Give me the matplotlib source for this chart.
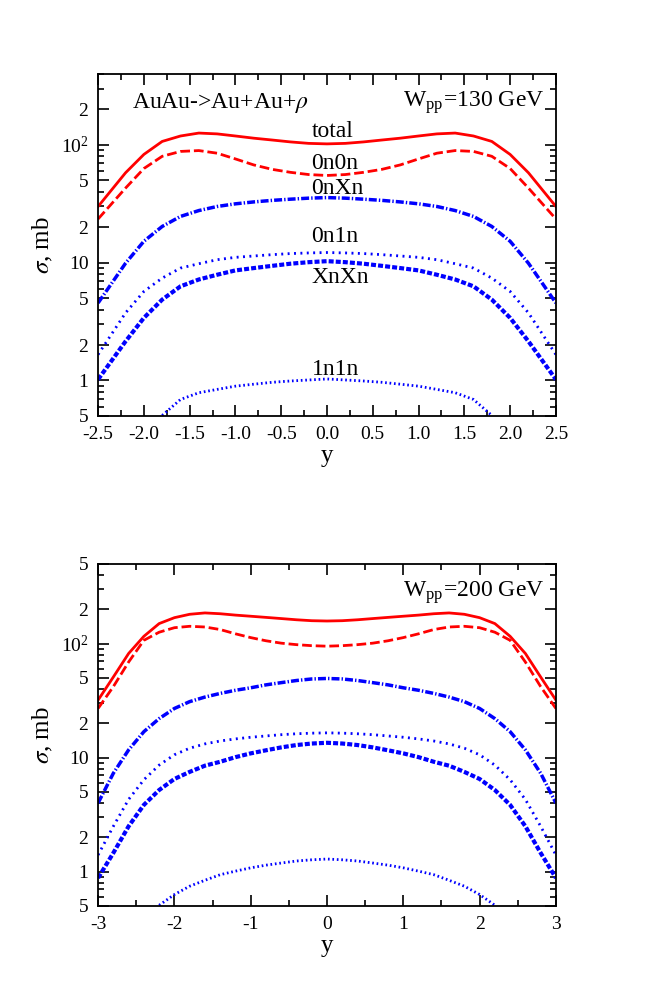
import numpy as np
import matplotlib
matplotlib.use('Agg')
import matplotlib.pyplot as plt
from matplotlib.ticker import LogLocator, FuncFormatter, MultipleLocator, NullFormatter

plt.rcParams['font.family'] = ['Liberation Serif', 'DejaVu Serif']
plt.rcParams['mathtext.fontset'] = 'stix'

# W_pp = 130 GeV panel
y130 = [-2.5, -2.2, -2.0, -1.8, -1.6, -1.4, -1.2, -1.0, -0.8, -0.6, -0.4, -0.2, 0.0,
        0.2, 0.4, 0.6, 0.8, 1.0, 1.2, 1.4, 1.6, 1.8, 2.0, 2.2, 2.5]
total130 = [30, 58, 83, 107, 119, 126, 124, 119, 114, 110, 106, 103, 102,
            103, 106, 110, 114, 119, 124, 126, 119, 107, 83, 58, 30]
n0n0_130 = [23.5, 43, 63, 80, 88, 89.5, 85, 76, 67.6, 62, 58.5, 56, 55,
            56, 58.5, 62, 67.6, 76, 85, 89.5, 88, 80, 63, 43, 23.5]
n0nX_130 = [4.55, 9.9, 15.2, 20.3, 24.7, 27.7, 30, 31.6, 32.8, 33.8, 34.6, 35.3, 35.7,
            35.3, 34.6, 33.8, 32.8, 31.6, 30, 27.7, 24.7, 20.3, 15.2, 9.9, 4.55]
n0n1_130 = [1.66, 3.75, 5.7, 7.4, 9.0, 9.8, 10.6, 11.1, 11.4, 11.7, 11.95, 12.1, 12.2,
            12.1, 11.95, 11.7, 11.4, 11.1, 10.6, 9.8, 9.0, 7.4, 5.7, 3.75, 1.66]
nXnX_130 = [1.02, 2.15, 3.4, 4.86, 6.3, 7.2, 7.9, 8.6, 9.0, 9.4, 9.8, 10.1, 10.3,
            10.1, 9.8, 9.4, 9.0, 8.6, 7.9, 7.2, 6.3, 4.86, 3.4, 2.15, 1.02]
n1n1_130 = [np.nan, np.nan, np.nan, 0.505, 0.69, 0.787, 0.84, 0.895, 0.93, 0.965, 0.99, 1.01, 1.03,
            1.01, 0.99, 0.965, 0.93, 0.895, 0.84, 0.787, 0.69, 0.505, np.nan, np.nan, np.nan]

# W_pp = 200 GeV panel
y200 = [-3.0, -2.8, -2.6, -2.4, -2.2, -2.0, -1.8, -1.6, -1.4, -1.2, -1.0, -0.8, -0.6, -0.4, -0.2, 0.0,
        0.2, 0.4, 0.6, 0.8, 1.0, 1.2, 1.4, 1.6, 1.8, 2.0, 2.2, 2.4, 2.6, 2.8, 3.0]
total200 = [32, 51, 82, 116, 150, 169, 181, 186, 183, 178, 174, 170, 166, 162, 159, 158,
            159, 162, 166, 170, 174, 178, 183, 186, 181, 169, 150, 116, 82, 51, 32]
n0n0_200 = [27, 42, 69, 107, 126, 138, 142, 140, 133, 122, 113, 106, 101, 98, 96, 95,
            96, 98, 101, 106, 113, 122, 133, 140, 142, 138, 126, 107, 69, 42, 27]
n0nX_200 = [4.0, 7.3, 11.7, 16.9, 22, 27, 31, 34, 36.6, 39, 41, 43.5, 45.5, 47.5, 49, 49.5,
            49, 47.5, 45.5, 43.5, 41, 39, 36.6, 34, 31, 27, 22, 16.9, 11.7, 7.3, 4.0]
n0n1_200 = [1.4, 2.5, 4.3, 6.4, 8.6, 10.6, 12.1, 13.2, 14.0, 14.6, 15.1, 15.5, 15.9, 16.2, 16.4, 16.5,
            16.4, 16.2, 15.9, 15.5, 15.1, 14.6, 14.0, 13.2, 12.1, 10.6, 8.6, 6.4, 4.3, 2.5, 1.4]
nXnX_200 = [0.88, 1.46, 2.5, 3.85, 5.2, 6.5, 7.5, 8.5, 9.2, 10.1, 10.9, 11.6, 12.3, 12.9, 13.3, 13.5,
            13.3, 12.9, 12.3, 11.6, 10.9, 10.1, 9.2, 8.5, 7.5, 6.5, 5.2, 3.85, 2.5, 1.46, 0.88]
n1n1_200 = [np.nan, np.nan, np.nan, np.nan, 0.507, 0.63, 0.745, 0.84, 0.94, 1.01, 1.08, 1.14, 1.19, 1.24, 1.27, 1.29,
            1.27, 1.24, 1.19, 1.14, 1.08, 1.01, 0.94, 0.84, 0.745, 0.63, 0.507, np.nan, np.nan, np.nan, np.nan]

curve_labels = ['total', '0n0n', '0nXn', '0n1n', 'XnXn', '1n1n']
label_pos = [131, 70, 43, 16.6, 7.5, 1.24]

RED = '#ff0000'
BLUE = '#0000ff'


def ytick_fmt(v, pos):
    e = int(np.floor(np.log10(v) + 1e-9))
    m = int(round(v / 10 ** e))
    if m == 1:
        if e == 2:
            return r'$\mathregular{10^2}$'
        return '%g' % v
    return str(m)


def draw(ax, x, tot, a, b, c, d, e):
    ax.plot(x, tot, color=RED, lw=2.0, solid_joinstyle='round')
    ax.plot(x, a, color=RED, lw=2.0, dashes=(3.5, 1.4))
    ax.plot(x, b, color=BLUE, lw=2.5, dashes=(2.3, 0.6, 0.4, 0.6))
    ax.plot(x, c, color=BLUE, lw=2.0, dashes=(0.7, 1.6))
    ax.plot(x, d, color=BLUE, lw=3.0, dashes=(1.2, 0.5))
    ax.plot(x, e, color=BLUE, lw=2.0, dashes=(0.6, 1.0))
    ax.set_yscale('log')
    ax.yaxis.set_major_locator(LogLocator(base=10, subs=(1.0, 2.0, 5.0)))
    ax.yaxis.set_minor_locator(LogLocator(base=10, subs=(3.0, 4.0, 6.0, 7.0, 8.0, 9.0)))
    ax.yaxis.set_major_formatter(FuncFormatter(ytick_fmt))
    ax.yaxis.set_minor_formatter(NullFormatter())
    ax.tick_params(which='both', direction='in', top=True, right=True, labelsize=14, width=1.2)
    ax.tick_params(which='major', length=8, pad=7)
    ax.tick_params(which='minor', length=4)
    ax.set_xlabel('y', fontsize=18, labelpad=2)
    ax.set_ylabel(r'$\sigma$, mb', fontsize=18, labelpad=4)
    for s in ax.spines.values():
        s.set_linewidth(1.3)


fig = plt.figure(figsize=(6.54, 9.81), dpi=100)

ax1 = fig.add_axes([0.150, 0.576, 0.700, 0.3486])
draw(ax1, y130, total130, n0n0_130, n0nX_130, n0n1_130, nXnX_130, n1n1_130)
ax1.set_xlim(-2.5, 2.5)
ax1.set_ylim(0.5, 400)
ax1.xaxis.set_major_locator(MultipleLocator(0.5))
ax1.xaxis.set_minor_locator(MultipleLocator(0.25))
ax1.xaxis.set_major_formatter(FuncFormatter(lambda v, p: '%.1f' % v))
ax1.text(0.075, 0.915, r'AuAu->Au+Au+$\rho$', transform=ax1.transAxes, fontsize=17, va='center')
ax1.text(0.975, 0.915, r'W$_{\mathregular{pp}}$=130 GeV', transform=ax1.transAxes,
         fontsize=17, va='center', ha='right')
for name, yl in zip(curve_labels, label_pos):
    ax1.text(-0.17, yl, name, fontsize=17, va='center', ha='left')

ax2 = fig.add_axes([0.150, 0.0765, 0.700, 0.3486])
draw(ax2, y200, total200, n0n0_200, n0nX_200, n0n1_200, nXnX_200, n1n1_200)
ax2.set_xlim(-3, 3)
ax2.set_ylim(0.5, 500)
ax2.xaxis.set_major_locator(MultipleLocator(1))
ax2.xaxis.set_minor_locator(MultipleLocator(0.5))
ax2.xaxis.set_major_formatter(FuncFormatter(lambda v, p: '%d' % v))
ax2.text(0.975, 0.915, r'W$_{\mathregular{pp}}$=200 GeV', transform=ax2.transAxes,
         fontsize=17, va='center', ha='right')

fig.savefig('out.png', dpi=100)
